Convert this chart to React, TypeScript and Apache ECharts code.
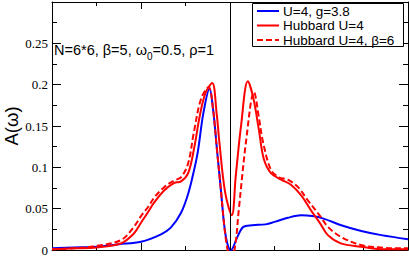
import React, { useEffect, useRef } from "react";
import * as echarts from "echarts";

// omega values and spectral function values
const blueOmega = [-4, -3.5, -3, -2.5, -2, -1.55, -1.33, -1.1, -0.94, -0.81, -0.72, -0.6, -0.46, -0.38, -0.29, -0.2, -0.13, -0.06, 0.02, 0.16, 0.3, 0.5, 0.8, 1.0, 1.3, 1.6, 1.85, 2.1, 2.5, 2.95, 3.4, 4.0];
const blueA = [0.002, 0.003, 0.004, 0.007, 0.010, 0.019, 0.027, 0.045, 0.068, 0.096, 0.12, 0.165, 0.195, 0.17, 0.12, 0.07, 0.03, 0.008, 0.0, 0.015, 0.028, 0.030, 0.031, 0.034, 0.039, 0.042, 0.041, 0.038, 0.030, 0.023, 0.018, 0.013];

const hubOmega = [-4, -3.5, -3, -2.45, -2.16, -2.0, -1.84, -1.71, -1.48, -1.26, -1.1, -0.94, -0.81, -0.68, -0.55, -0.4, -0.3, -0.24, -0.11, 0.04, 0.13, 0.25, 0.4, 0.52, 0.65, 0.76, 0.92, 1.15, 1.37, 1.6, 1.82, 2.04, 2.2, 2.49, 2.94, 3.4, 4];
const hubA = [0.001, 0.002, 0.003, 0.008, 0.02, 0.033, 0.046, 0.057, 0.072, 0.081, 0.083, 0.093, 0.122, 0.162, 0.19, 0.202, 0.165, 0.131, 0.07, 0.042, 0.09, 0.151, 0.204, 0.185, 0.145, 0.11, 0.093, 0.085, 0.079, 0.066, 0.048, 0.031, 0.018, 0.008, 0.004, 0.001, 0.001];

const hub6Omega = [-4, -3.5, -3, -2.45, -2.16, -2.0, -1.84, -1.71, -1.48, -1.26, -1.1, -0.94, -0.81, -0.65, -0.48, -0.38, -0.3, -0.2, -0.13, -0.07, 0.0, 0.1, 0.2, 0.36, 0.54, 0.65, 0.74, 0.92, 1.1, 1.3, 1.53, 1.75, 2.04, 2.2, 2.49, 2.94, 3.39, 3.84, 4];
const hub6A = [0.001, 0.002, 0.005, 0.012, 0.028, 0.041, 0.052, 0.063, 0.076, 0.084, 0.088, 0.105, 0.143, 0.183, 0.197, 0.17, 0.125, 0.07, 0.03, 0.005, -0.008, 0.0, 0.05, 0.131, 0.191, 0.16, 0.131, 0.097, 0.088, 0.085, 0.076, 0.06, 0.04, 0.028, 0.016, 0.006, 0.003, 0.002, 0.002];

const seriesNames = ["U=4, g=3.8", "Hubbard U=4", "Hubbard U=4, \u03b2=6"];
const yTickLabels = ["0", "0.05", "0.1", "0.15", "0.2", "0.25"];
const yAxisTitle = "A(\u03c9)";

const pairs = (xs: number[], ys: number[]) => xs.map((x, i) => [x, ys[i]]);

export default function App() {
  const ref = useRef<HTMLDivElement>(null);
  useEffect(() => {
    if (!ref.current) return;
    const chart = echarts.init(ref.current, null, { renderer: "svg" });
    const tickLabelStyle = {
      fontFamily: "Liberation Serif",
      fontSize: 13,
      color: "#000",
    };
    const xCommon = {
      type: "value",
      min: -4,
      max: 4,
      interval: 2,
      axisLine: { show: true, onZero: false, lineStyle: { color: "#000", width: 1 } },
      axisTick: { show: true, inside: true, length: 7, lineStyle: { color: "#000" } },
      minorTick: { show: true, splitNumber: 2, length: 4, lineStyle: { color: "#000" } },
      axisLabel: { show: false },
      splitLine: { show: false },
    };
    const yCommon = {
      type: "value",
      min: 0,
      max: 0.3,
      interval: 0.05,
      axisLine: { show: true, onZero: false, lineStyle: { color: "#000", width: 1 } },
      axisTick: { show: true, inside: true, length: 9, lineStyle: { color: "#000" } },
      minorTick: { show: true, splitNumber: 2, length: 5, lineStyle: { color: "#000" } },
      splitLine: { show: false },
    };
    const legendRows = [11, 25.5, 40];
    chart.setOption({
      animation: false,
      grid: { left: 52, right: 1, top: 2, bottom: 6, containLabel: false, outerBoundsMode: "none" },
      xAxis: [
        { ...xCommon, position: "bottom" },
        { ...xCommon, position: "top" },
      ],
      yAxis: [
        {
          ...yCommon,
          position: "left",
          axisLabel: {
            show: true,
            margin: 4,
            ...tickLabelStyle,
            formatter: (v: number) => {
              const idx = Math.round(v / 0.05);
              return idx < yTickLabels.length ? yTickLabels[idx] : "";
            },
          },
        },
        { ...yCommon, position: "right", axisLabel: { show: false } },
      ],
      series: [
        {
          name: seriesNames[0],
          type: "line",
          data: pairs(blueOmega, blueA),
          smooth: 0.35,
          symbol: "none",
          lineStyle: { color: "#0000ff", width: 2 },
          markLine: {
            silent: true,
            symbol: "none",
            label: { show: false },
            lineStyle: { color: "#000", width: 1, type: "solid" },
            data: [{ xAxis: 0 }],
          },
        },
        {
          name: seriesNames[1],
          type: "line",
          data: pairs(hubOmega, hubA),
          smooth: 0.35,
          symbol: "none",
          lineStyle: { color: "#ff0000", width: 2 },
        },
        {
          name: seriesNames[2],
          type: "line",
          data: pairs(hub6Omega, hub6A),
          smooth: 0.35,
          symbol: "none",
          lineStyle: { color: "#ff0000", width: 2, type: [6, 3] },
        },
      ],
      graphic: [
        {
          type: "text",
          x: 11,
          y: 126,
          rotation: Math.PI / 2,
          style: {
            text: yAxisTitle,
            fontFamily: "Liberation Sans",
            fontSize: 18.5,
            fill: "#000",
            align: "center",
            verticalAlign: "middle",
          },
        },
        {
          type: "text",
          left: 54,
          top: 42,
          style: {
            text: "{a|N=6*6, \u03b2=5, \u03c9}{s|0}{a|=0.5, \u03c1=1}",
            rich: {
              a: { fontFamily: "Liberation Sans", fontSize: 14.5, fill: "#000", verticalAlign: "bottom" },
              s: { fontFamily: "Liberation Sans", fontSize: 10, fill: "#000", verticalAlign: "bottom", padding: [0, 0, -4, 0] },
            },
          },
        },
        {
          type: "rect",
          shape: { x: 252.5, y: 3.5, width: 151, height: 43 },
          style: { fill: "#fff", stroke: "#000", lineWidth: 1 },
          z: 10,
        },
        ...legendRows.map((y, i) => ({
          type: "line",
          shape: { x1: 257, y1: y, x2: 279, y2: y },
          style: {
            stroke: i === 0 ? "#0000ff" : "#ff0000",
            lineWidth: 2,
            lineDash: i === 2 ? [6, 3] : null,
          },
          z: 11,
        })),
        ...legendRows.map((y, i) => ({
          type: "text",
          x: 283,
          y: y,
          style: {
            text: seriesNames[i],
            fontFamily: "Liberation Sans",
            fontSize: 13.5,
            fill: "#000",
            verticalAlign: "middle",
          },
          z: 11,
        })),
      ],
    });
    return () => chart.dispose();
  }, []);
  return <div ref={ref} style={{ width: 409, height: 256, position: "absolute", left: 0, top: 0, background: "#fff" }} />;
}
